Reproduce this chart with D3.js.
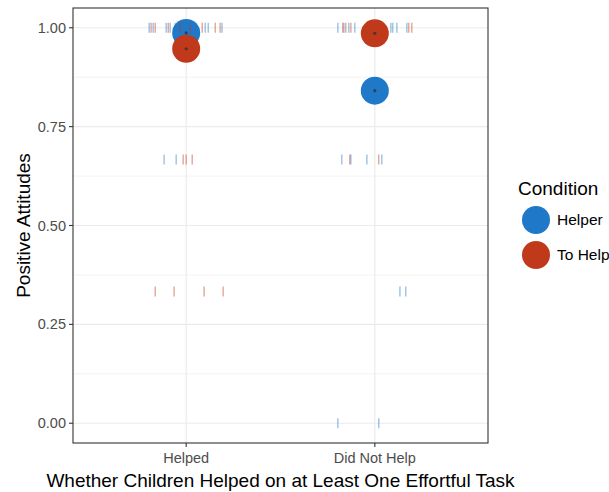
<!DOCTYPE html>
<html><head><meta charset="utf-8">
<script src="https://cdn.jsdelivr.net/npm/d3@7"></script>
<style>body{margin:0;background:#fff}svg{display:block;font-family:"Liberation Sans",Arial,sans-serif}</style>
</head><body>
<svg id="c" width="609" height="492"></svg>
<script>
const categories = ["Helped", "Did Not Help"];
const conditions = ["Helper", "To Help"];
const colors = ["#1f78c8", "#c0391b"];
const yTicks = [0, 0.25, 0.5, 0.75, 1];
const yTickLabels = ["0.00", "0.25", "0.50", "0.75", "1.00"];

// means per condition, by category
const meanHelper = [0.987, 0.841];
const meanToHelp = [0.947, 0.986];

// jittered individual responses (x in category units: 1 = Helped, 2 = Did Not Help)
const helperX = [0.804, 0.825, 0.894, 0.915, 0.942, 0.989, 1.053, 1.101, 1.117, 1.190,
  0.883, 0.947,
  1.804, 1.836, 1.862, 1.894, 2.085, 2.095, 2.117, 2.170,
  1.825, 1.873, 1.958, 2.037,
  2.133, 2.164,
  1.804, 2.021];
const helperY = [1, 1, 1, 1, 1, 1, 1, 1, 1, 1,
  0.6667, 0.6667,
  1, 1, 1, 1, 1, 1, 1, 1,
  0.6667, 0.6667, 0.6667, 0.6667,
  0.3333, 0.3333,
  0, 0];
const toHelpX = [0.814, 0.836, 0.905, 0.968, 1.021, 1.085, 1.154, 1.180,
  0.984, 1.000, 1.032,
  0.836, 0.936, 1.095, 1.196,
  1.830, 1.846, 1.873, 2.021, 2.180, 2.196,
  1.867, 2.021];
const toHelpY = [1, 1, 1, 1, 1, 1, 1, 1,
  0.6667, 0.6667, 0.6667,
  0.3333, 0.3333, 0.3333, 0.3333,
  1, 1, 1, 1, 1, 1,
  0.6667, 0.6667];

const svg = d3.select("#c");
const L = 73, R = 488, T = 8, B = 443;
const x = d3.scaleLinear().domain([0.4, 2.6]).range([L, R]);
const y = d3.scaleLinear().domain([-0.05, 1.05]).range([B, T]);

// grid
const g = svg.append("g");
const minor = [0.125, 0.375, 0.625, 0.875];
g.selectAll(".mn").data(minor).enter().append("line")
  .attr("x1", L).attr("x2", R).attr("y1", d => y(d)).attr("y2", d => y(d))
  .attr("stroke", "#ebebeb").attr("stroke-width", 0.6);
g.selectAll(".mj").data(yTicks).enter().append("line")
  .attr("x1", L).attr("x2", R).attr("y1", d => y(d)).attr("y2", d => y(d))
  .attr("stroke", "#ebebeb").attr("stroke-width", 1.2);
g.selectAll(".mx").data([1, 2]).enter().append("line")
  .attr("y1", T).attr("y2", B).attr("x1", d => x(d)).attr("x2", d => x(d))
  .attr("stroke", "#ebebeb").attr("stroke-width", 1.2);

// mean circles
const means = [meanHelper, meanToHelp];
means.forEach((m, ci) => {
  svg.selectAll(null).data(m).enter().append("circle")
    .attr("cx", (d, i) => x(i + 1)).attr("cy", d => y(d)).attr("r", 14)
    .attr("fill", colors[ci]);
  svg.selectAll(null).data(m).enter().append("circle")
    .attr("cx", (d, i) => x(i + 1)).attr("cy", d => y(d)).attr("r", 1.6)
    .attr("fill", "#333").attr("opacity", 0.8);
});

// jittered ticks
function ticks(xs, ys, col) {
  svg.selectAll(null).data(xs).enter().append("line")
    .attr("x1", d => x(d)).attr("x2", d => x(d))
    .attr("y1", (d, i) => y(ys[i]) - 5).attr("y2", (d, i) => y(ys[i]) + 5)
    .attr("stroke", col).attr("stroke-width", 1.4).attr("stroke-opacity", 0.45);
}
ticks(helperX, helperY, colors[0]);
ticks(toHelpX, toHelpY, colors[1]);

// border
svg.append("rect").attr("x", L).attr("y", T).attr("width", R - L).attr("height", B - T)
  .attr("fill", "none").attr("stroke", "#333").attr("stroke-width", 1.1);

// y axis
svg.selectAll(".yt").data(yTicks).enter().append("line")
  .attr("x1", L - 4).attr("x2", L).attr("y1", d => y(d)).attr("y2", d => y(d))
  .attr("stroke", "#333").attr("stroke-width", 1.1);
svg.selectAll(".yl").data(yTicks).enter().append("text")
  .attr("x", L - 7).attr("y", d => y(d)).attr("dy", "0.35em")
  .attr("text-anchor", "end").attr("font-size", 14.5).attr("fill", "#4d4d4d")
  .text((d, i) => yTickLabels[i]);

// x axis
svg.selectAll(".xt").data(categories).enter().append("line")
  .attr("x1", (d, i) => x(i + 1)).attr("x2", (d, i) => x(i + 1)).attr("y1", B).attr("y2", B + 4)
  .attr("stroke", "#333").attr("stroke-width", 1.1);
svg.selectAll(".xl").data(categories).enter().append("text")
  .attr("x", (d, i) => x(i + 1)).attr("y", B + 20)
  .attr("text-anchor", "middle").attr("font-size", 14.5).attr("fill", "#4d4d4d")
  .text(d => d);

// titles
svg.append("text").attr("x", (L + R) / 2).attr("y", 487).attr("text-anchor", "middle")
  .attr("font-size", 19).attr("fill", "#000")
  .text("Whether Children Helped on at Least One Effortful Task");
svg.append("text").attr("transform", `translate(30,${(T + B) / 2}) rotate(-90)`)
  .attr("text-anchor", "middle").attr("font-size", 19).attr("fill", "#000")
  .text("Positive Attitudes");

// legend
svg.append("text").attr("x", 518).attr("y", 195).attr("font-size", 19).attr("fill", "#000").text("Condition");
conditions.forEach((c, i) => {
  svg.append("circle").attr("cx", 536).attr("cy", 220 + i * 35).attr("r", 14).attr("fill", colors[i]);
  svg.append("text").attr("x", 557).attr("y", 220 + i * 35).attr("dy", "0.35em")
    .attr("font-size", 15.5).attr("fill", "#000").text(c);
});
</script>
</body></html>
